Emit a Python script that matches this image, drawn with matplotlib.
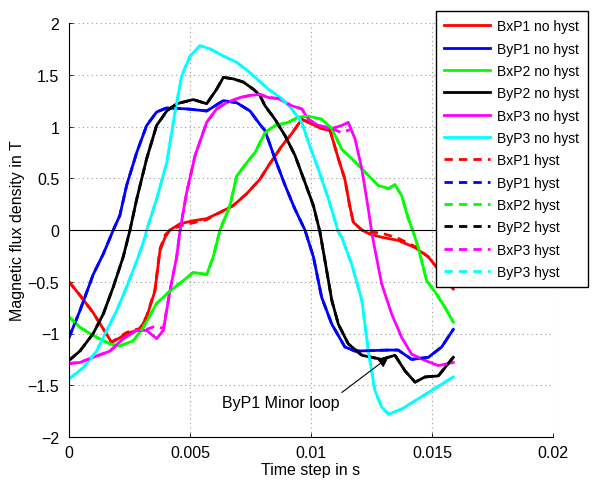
import matplotlib
matplotlib.use('Agg')
import matplotlib.pyplot as plt
import numpy as np

plt.rcParams['font.family'] = ['Liberation Sans', 'DejaVu Sans']
plt.rcParams['font.size'] = 11.5

# time in ms, flux density in T
t_bxp1 = [0, 0.45, 1.0, 1.76, 2.04, 2.38, 2.93, 3.21, 3.55, 3.76, 3.97, 4.17, 4.59, 5.14, 5.69,
          6.24, 6.78, 7.34, 7.89, 8.24, 8.79, 9.2, 9.62, 9.89, 10.44, 10.79, 11.13, 11.4, 11.6,
          11.75, 12.1, 12.44, 12.92, 13.6, 14.3, 14.85, 15.19, 15.88]
b_bxp1 = [-0.5, -0.63, -0.8, -1.085, -1.05, -1.0, -0.96, -0.84, -0.59, -0.2, -0.07, 0.0, 0.06,
          0.09, 0.11, 0.17, 0.235, 0.35, 0.49, 0.62, 0.81, 0.93, 1.07, 1.04, 0.98, 0.96, 0.69,
          0.49, 0.235, 0.075, 0.0, -0.04, -0.07, -0.10, -0.17, -0.26, -0.36, -0.57]
b_bxp1_h = [-0.5, -0.63, -0.8, -1.085, -1.04, -0.99, -0.95, -0.83, -0.58, -0.18, -0.05, 0.0, 0.04,
            0.07, 0.10, 0.17, 0.235, 0.35, 0.49, 0.62, 0.81, 0.93, 1.07, 1.04, 0.98, 0.96, 0.69,
            0.49, 0.235, 0.075, 0.0, -0.02, -0.03, -0.08, -0.16, -0.26, -0.36, -0.57]

t_byp1 = [0, 0.45, 1.0, 1.42, 1.83, 2.1, 2.38, 2.8, 3.21, 3.62, 4.04, 4.86, 5.69, 6.38, 6.93,
          7.48, 7.89, 8.1, 8.51, 8.93, 9.34, 9.75, 10.1, 10.44, 10.86, 11.4, 11.82, 13.2, 13.6,
          14.16, 14.85, 15.4, 15.88]
b_byp1 = [-1.04, -0.78, -0.43, -0.23, 0.0, 0.14, 0.43, 0.75, 1.01, 1.14, 1.18, 1.17, 1.15, 1.25,
          1.23, 1.15, 1.02, 0.96, 0.69, 0.43, 0.20, 0.0, -0.26, -0.65, -0.91, -1.13, -1.17,
          -1.16, -1.16, -1.25, -1.23, -1.13, -0.96]

t_bxp2 = [0, 0.45, 1.0, 1.69, 2.1, 2.66, 3.07, 3.62, 4.17, 4.72, 5.14, 5.69, 5.96, 6.24, 6.65,
          6.93, 7.34, 7.69, 8.1, 8.51, 9.06, 9.48, 9.89, 10.44, 10.86, 11.27, 11.68, 12.23,
          12.78, 13.2, 13.47, 13.75, 14.02, 14.23, 14.43, 14.78, 15.19, 15.54, 15.88]
b_bxp2 = [-0.84, -0.94, -1.02, -1.10, -1.12, -1.07, -0.94, -0.71, -0.59, -0.49, -0.41, -0.43,
          -0.26, 0.0, 0.235, 0.52, 0.65, 0.75, 0.94, 1.01, 1.04, 1.09, 1.10, 1.07, 0.98, 0.78,
          0.69, 0.56, 0.43, 0.40, 0.44, 0.33, 0.11, -0.02, -0.17, -0.49, -0.62, -0.75, -0.89]

t_byp2 = [0, 0.45, 1.0, 1.42, 1.83, 2.24, 2.52, 2.8, 3.21, 3.62, 4.04, 4.45, 5.14, 5.69, 6.1,
          6.38, 6.79, 7.2, 7.62, 7.89, 8.1, 8.51, 8.93, 9.34, 9.75, 10.1, 10.37, 10.58, 10.86,
          11.13, 11.54, 12.1, 12.92, 13.47, 13.88, 14.3, 14.71, 15.26, 15.88]
b_byp2 = [-1.26, -1.17, -1.0, -0.81, -0.55, -0.26, 0.0, 0.30, 0.69, 1.01, 1.15, 1.22, 1.26,
          1.22, 1.36, 1.475, 1.46, 1.43, 1.36, 1.30, 1.20, 1.07, 0.91, 0.72, 0.46, 0.235, -0.02,
          -0.30, -0.68, -0.91, -1.10, -1.21, -1.25, -1.21, -1.36, -1.47, -1.42, -1.41, -1.23]

t_bxp3 = [0, 0.45, 1.0, 1.69, 2.24, 2.8, 3.21, 3.62, 3.9, 4.17, 4.45, 4.59, 4.86, 5.21, 5.69,
          6.1, 6.51, 7.07, 7.48, 7.89, 8.24, 8.65, 9.2, 9.62, 9.89, 10.3, 10.86, 11.27, 11.54,
          11.82, 12.1, 12.37, 12.51, 12.57, 12.92, 13.33, 13.75, 14.16, 14.71, 15.26, 15.88]
b_bxp3 = [-1.29, -1.28, -1.23, -1.17, -1.05, -0.97, -0.97, -1.05, -0.97, -0.59, -0.26, 0.0,
          0.36, 0.72, 1.04, 1.17, 1.23, 1.28, 1.30, 1.31, 1.28, 1.27, 1.20, 1.17, 1.07, 1.01,
          0.98, 1.01, 1.04, 0.88, 0.59, 0.20, -0.02, -0.10, -0.52, -0.81, -1.04, -1.20, -1.26,
          -1.31, -1.28]
t_bxp3_h = [0, 0.45, 1.0, 1.69, 2.24, 2.8, 3.21, 3.55, 3.9, 4.17, 4.45, 4.59, 4.86, 5.21, 5.69,
            6.1, 6.51, 7.07, 7.48, 7.89, 8.24, 8.65, 9.2, 9.62, 9.89, 10.3, 10.86, 11.27, 11.6]
b_bxp3_h = [-1.29, -1.28, -1.23, -1.17, -1.05, -0.97, -0.96, -0.93, -0.95, -0.59, -0.26, 0.0,
            0.36, 0.72, 1.04, 1.17, 1.23, 1.28, 1.30, 1.31, 1.28, 1.27, 1.20, 1.17, 1.07, 1.01,
            0.98, 0.94, 0.97]

t_byp3 = [0, 0.59, 1.14, 1.56, 1.97, 2.38, 2.8, 3.14, 3.21, 3.62, 4.04, 4.38, 4.66, 5.0, 5.41,
          5.83, 6.38, 6.93, 7.48, 7.69, 8.24, 8.79, 9.2, 9.62, 9.89, 10.3, 10.72, 11.13, 11.27,
          11.68, 12.1, 12.37, 12.64, 12.92, 13.2, 13.75, 14.3, 14.85, 15.4, 15.88]
b_byp3 = [-1.44, -1.33, -1.17, -0.97, -0.78, -0.55, -0.30, -0.07, 0.0, 0.30, 0.65, 1.14, 1.49,
          1.68, 1.78, 1.75, 1.68, 1.62, 1.52, 1.475, 1.36, 1.27, 1.17, 1.04, 0.85, 0.59, 0.30,
          -0.02, -0.07, -0.33, -0.68, -1.17, -1.55, -1.71, -1.78, -1.73, -1.65, -1.57, -1.49,
          -1.42]

colors = ['#ff0000', '#0000ff', '#00ff00', '#000000', '#ff00ff', '#00ffff']
names = ['BxP1', 'ByP1', 'BxP2', 'ByP2', 'BxP3', 'ByP3']

no_hyst = [(t_bxp1, b_bxp1), (t_byp1, b_byp1), (t_bxp2, b_bxp2),
           (t_byp2, b_byp2), (t_bxp3, b_bxp3), (t_byp3, b_byp3)]
# hysteresis runs lie on top of the plain runs nearly everywhere
hyst = [(t_bxp1, b_bxp1_h), (t_byp1, b_byp1), (t_bxp2, b_bxp2),
        (t_byp2, b_byp2), (t_bxp3_h, b_bxp3_h), (t_byp3, b_byp3)]

fig = plt.figure(figsize=(6, 4.81), dpi=100)
ax = fig.add_axes([69/600, 43/481, 484/600, 414/481])

for (t, b), c, n in zip(no_hyst, colors, names):
    ax.plot(np.array(t) / 1000, b, color=c, lw=2, label=n + ' no hyst')
for (t, b), c, n in zip(hyst, colors, names):
    ax.plot(np.array(t) / 1000, b, color=c, lw=2, ls=(0, (3, 2.2)), label=n + ' hyst')

ax.axhline(0, color='k', lw=0.8)

ax.set_xlim(0, 0.02)
ax.set_ylim(-2, 2)
ax.set_xticks([0, 0.005, 0.01, 0.015, 0.02])
ax.set_xticklabels(['0', '0.005', '0.01', '0.015', '0.02'])
ax.set_yticks([-2, -1.5, -1, -0.5, 0, 0.5, 1, 1.5, 2])
ax.set_yticklabels(['\u22122', '\u22121.5', '\u22121', '\u22120.5', '0', '0.5', '1', '1.5', '2'])
ax.grid(True, ls=(0, (1, 3)), color='#999999', lw=0.8)
ax.tick_params(direction='in', length=3, width=0.6)
ax.tick_params(axis='y', pad=7)
ax.tick_params(axis='x', pad=6)
for s in ['top', 'right']:
    ax.spines[s].set_visible(False)
ax.set_xlabel('Time step in s', labelpad=1)
ax.set_ylabel('Magnetic flux density in T', labelpad=2)

ax.annotate('ByP1 Minor loop', xy=(0.0132, -1.23), xytext=(0.01116, -1.59),
            arrowprops=dict(arrowstyle='-|>', color='k', lw=0.8, mutation_scale=15,
                            relpos=(1, 1), shrinkA=0, shrinkB=0),
            ha='right', va='top')

leg = fig.legend(loc='upper left', bbox_to_anchor=(436/600, 1 - 12/481), borderaxespad=0,
                 handlelength=3.3, handletextpad=0.5, labelspacing=0.6, borderpad=0.6,
                 fancybox=False, framealpha=1, edgecolor='k', fontsize=10)
leg.get_frame().set_linewidth(1)

plt.savefig('out.png', dpi=100)
